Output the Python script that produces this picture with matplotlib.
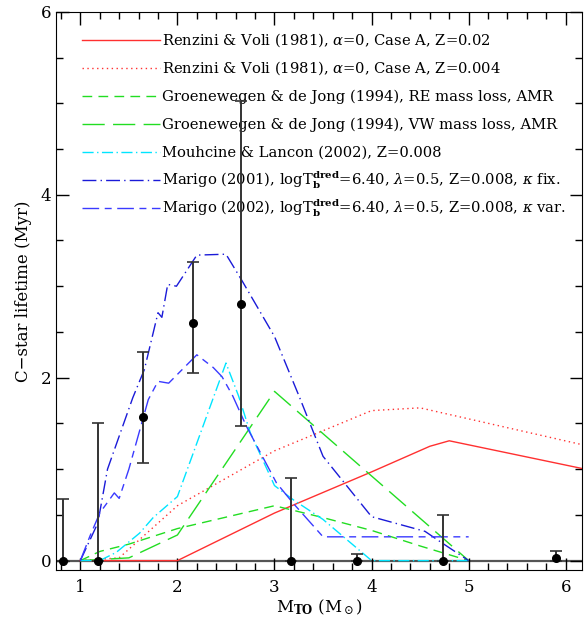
import numpy as np
import matplotlib
matplotlib.use("Agg")
import matplotlib.pyplot as plt
from matplotlib.ticker import MultipleLocator

plt.rcParams["font.family"] = ["DejaVu Serif"]
plt.rcParams["mathtext.fontset"] = "dejavuserif"

# === DATA ===================================================================
# Renzini & Voli (1981), Z=0.02
rv02_m = [1.0, 2.0, 3.0, 4.0, 4.6, 4.8, 6.2]
rv02_t = [0.0, 0.0, 0.52, 0.97, 1.25, 1.31, 1.0]
# Renzini & Voli (1981), Z=0.004
rv004_m = [1.0, 1.4, 1.6, 2.0, 2.5, 3.0, 3.5, 4.0, 4.5, 6.2]
rv004_t = [0.0, 0.03, 0.22, 0.6, 0.9, 1.2, 1.42, 1.64, 1.67, 1.26]
# Groenewegen & de Jong (1994), RE mass loss
gre_m = [1.0, 1.2, 1.5, 2.0, 3.0, 3.5, 4.0, 4.5, 5.0]
gre_t = [0.0, 0.1, 0.18, 0.35, 0.6, 0.47, 0.33, 0.16, 0.0]
# Groenewegen & de Jong (1994), VW mass loss
gvw_m = [1.0, 1.5, 2.0, 3.0, 5.0]
gvw_t = [0.0, 0.03, 0.28, 1.85, 0.0]
# Mouhcine & Lancon (2002)
ml_m = [1.0, 1.2, 1.37, 1.61, 1.75, 2.0, 2.5, 2.63, 2.75, 3.0, 3.2, 3.5, 4.0, 5.0]
ml_t = [0.0, 0.0, 0.09, 0.3, 0.47, 0.7, 2.16, 1.8, 1.4, 0.82, 0.66, 0.45, 0.0, 0.0]
# Marigo (2001), kappa fix
m01_m = [1.0, 1.18, 1.28, 1.54, 1.66, 1.80, 1.84, 1.90, 1.99, 2.2, 2.5, 2.66,
         3.0, 3.26, 3.5, 4.0, 4.55, 4.73, 5.0]
m01_t = [0.0, 0.41, 1.0, 1.78, 2.09, 2.71, 2.66, 3.02, 3.0, 3.34, 3.35, 3.07,
         2.45, 1.78, 1.14, 0.48, 0.32, 0.19, 0.0]
# Marigo (2002), kappa var
m02_m = [1.0, 1.1, 1.2, 1.35, 1.4, 1.5, 1.7, 1.8, 1.91, 2.2, 2.37, 2.46,
         2.57, 2.71, 3.02, 3.19, 3.5, 5.0]
m02_t = [0.0, 0.27, 0.52, 0.74, 0.68, 1.0, 1.76, 1.96, 1.94, 2.25, 2.11, 2.01,
         1.80, 1.47, 0.85, 0.63, 0.26, 0.26]

# observed points with error bars
obs_m = [0.82, 1.18, 1.65, 2.16, 2.65, 3.17, 3.85, 4.74, 5.9]
obs_t = [0.0, 0.0, 1.57, 2.6, 2.81, 0.0, 0.0, 0.0, 0.03]
obs_lo = [0.0, 0.0, 1.07, 2.05, 1.47, 0.0, 0.0, 0.0, 0.0]
obs_hi = [0.67, 1.5, 2.28, 3.27, 5.02, 0.9, 0.07, 0.5, 0.11]

labels = [
    r"Renzini & Voli (1981), $\alpha$=0, Case A, Z=0.02",
    r"Renzini & Voli (1981), $\alpha$=0, Case A, Z=0.004",
    "Groenewegen & de Jong (1994), RE mass loss, AMR",
    "Groenewegen & de Jong (1994), VW mass loss, AMR",
    "Mouhcine & Lancon (2002), Z=0.008",
    r"Marigo (2001), log$\mathrm{T}_{\mathbf{b}}^{\mathbf{dred}}$=6.40, $\lambda$=0.5, Z=0.008, $\kappa$ fix.",
    r"Marigo (2002), log$\mathrm{T}_{\mathbf{b}}^{\mathbf{dred}}$=6.40, $\lambda$=0.5, Z=0.008, $\kappa$ var.",
]
# ============================================================================

styles = [
    dict(color="#ff3030", ls="-"),
    dict(color="#ff3030", ls=(0, (1, 2.5))),
    dict(color="#22dd22", ls=(0, (7, 4.5))),
    dict(color="#22dd22", ls=(0, (16, 6))),
    dict(color="#00e5ff", ls=(0, (8, 2.5, 1, 2.5))),
    dict(color="#1a1ad8", ls=(0, (10, 3, 1, 3))),
    dict(color="#3a3aff", ls=(0, (12, 4, 5, 4))),
]
series = [(rv02_m, rv02_t), (rv004_m, rv004_t), (gre_m, gre_t), (gvw_m, gvw_t),
          (ml_m, ml_t), (m01_m, m01_t), (m02_m, m02_t)]

fig = plt.figure(figsize=(5.84, 6.22), dpi=100)
ax = fig.add_axes([0.096, 0.084, 0.901, 0.897])

ax.axhline(0, color="#555555", lw=1.6, zorder=1)

for (m, t), st in zip(series, styles):
    ax.plot(m, t, lw=1.0, **st)

obs_m = np.array(obs_m)
obs_t = np.array(obs_t)
yerr = [obs_t - np.array(obs_lo), np.array(obs_hi) - obs_t]
ax.errorbar(obs_m, obs_t, yerr=yerr, fmt="o", color="black", ecolor="#333333",
            ms=5.5, elinewidth=1.4, capsize=4, capthick=1.2, zorder=5)

ax.set_xlim(0.75, 6.17)
ax.set_ylim(-0.1, 6.0)
ax.xaxis.set_major_locator(MultipleLocator(1))
ax.xaxis.set_minor_locator(MultipleLocator(0.2))
ax.yaxis.set_major_locator(MultipleLocator(2))
ax.yaxis.set_minor_locator(MultipleLocator(0.5))
ax.tick_params(which="both", direction="in", top=True, right=True, labelsize=12)
ax.tick_params(which="major", length=9, width=1.0)
ax.tick_params(which="minor", length=5, width=1.0)
ax.tick_params(axis="x", pad=7)

ax.set_xlabel(r"M$_{\mathbf{TO}}$ (M$_\odot$)", fontsize=12, labelpad=1)
ax.set_ylabel("C\u2212star lifetime (Myr)", fontsize=12, labelpad=6)

# legend drawn by hand so that rows are evenly spaced
row0 = 1 - 28 / 558
dy = 28 / 558
for i, (lab, st) in enumerate(zip(labels, styles)):
    y = row0 - i * dy
    ax.plot([0.049, 0.198], [y, y], transform=ax.transAxes, lw=1.0, **st)
    ax.text(0.2015, y - 5 / 558, lab, transform=ax.transAxes, fontsize=10.6,
            va="baseline", ha="left")

fig.savefig("out.png", dpi=100)
